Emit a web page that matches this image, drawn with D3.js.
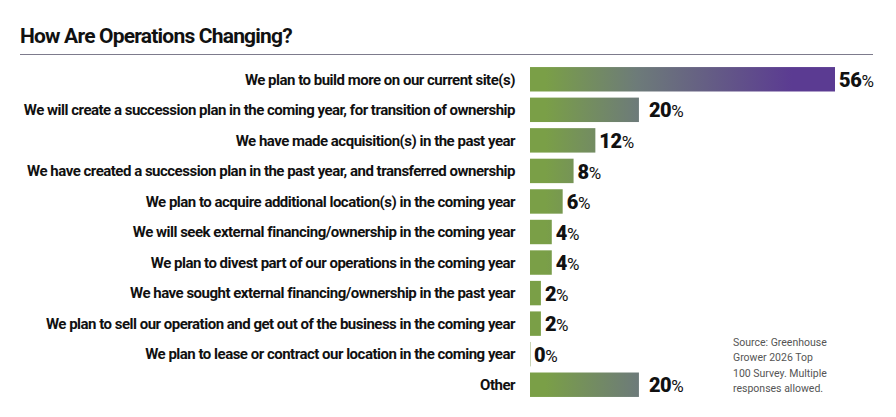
<!DOCTYPE html>
<html>
<head>
<meta charset="utf-8">
<script src="https://cdn.jsdelivr.net/npm/d3@7"></script>
<style>
  body { margin: 0; background: #fff; }
  svg { display: block; font-family: Roboto, "Noto Sans", sans-serif; }
</style>
</head>
<body>
<svg id="chart" width="896" height="417"></svg>
<script>
// chart data
const categories = [
  "We plan to build more on our current site(s)",
  "We will create a succession plan in the coming year, for transition of ownership",
  "We have made acquisition(s) in the past year",
  "We have created a succession plan in the past year, and transferred ownership",
  "We plan to acquire additional location(s) in the coming year",
  "We will seek external financing/ownership in the coming year",
  "We plan to divest part of our operations in the coming year",
  "We have sought external financing/ownership in the past year",
  "We plan to sell our operation and get out of the business in the coming year",
  "We plan to lease or contract our location in the coming year",
  "Other"
];
const values = [56, 20, 12, 8, 6, 4, 4, 2, 2, 0, 20];
const sourceLines = ["Source: Greenhouse", "Grower 2026 Top", "100 Survey. Multiple", "responses allowed."];

const svg = d3.select("#chart");

// title + rule
svg.append("text")
  .attr("x", 20).attr("y", 43)
  .attr("font-size", 21).attr("font-weight", 700)
  .attr("letter-spacing", -0.8)
  .attr("fill", "#111")
  .text("How Are Operations Changing?");

svg.append("line")
  .attr("x1", 20).attr("x2", 873)
  .attr("y1", 54.5).attr("y2", 54.5)
  .attr("stroke", "#7d7b8c").attr("stroke-width", 1);

// scales
const x = d3.scaleLinear().domain([0, 56]).range([530, 835]);
const y = d3.scaleBand().domain(categories).range([64, 400]).paddingInner(0.2).paddingOuter(0.1);

// gradient across the x range, shared by all bars
const defs = svg.append("defs");
const grad = defs.append("linearGradient")
  .attr("id", "barGrad")
  .attr("gradientUnits", "userSpaceOnUse")
  .attr("x1", x(0)).attr("x2", x(56)).attr("y1", 0).attr("y2", 0);
grad.append("stop").attr("offset", "0.05").attr("stop-color", "#7a9f47");
grad.append("stop").attr("offset", "0.35").attr("stop-color", "#6d7b79");
grad.append("stop").attr("offset", "0.86").attr("stop-color", "#5b3b92");

const rows = svg.append("g").selectAll("g")
  .data(categories)
  .join("g");

rows.append("text")
  .attr("x", 515)
  .attr("y", d => y(d) + y.bandwidth() / 2)
  .attr("dy", "0.35em")
  .attr("text-anchor", "end")
  .attr("font-size", 15).attr("font-weight", 700)
  .attr("letter-spacing", -0.5)
  .attr("fill", "#111")
  .text(d => d);

rows.append("rect")
  .attr("x", x(0))
  .attr("y", d => y(d))
  .attr("height", y.bandwidth())
  .attr("width", (d, i) => Math.max(1, x(values[i]) - x(0)))
  .attr("fill", (d, i) => values[i] === 0 ? "#c9d4b5" : "url(#barGrad)");

// value labels: the 20% ones sit a little further out in the original
const lbl = rows.append("text")
  .attr("x", (d, i) => x(values[i]) + (values[i] === 20 ? 10 : 4))
  .attr("y", d => y(d) + y.bandwidth() / 2 + 2)
  .attr("dy", "0.35em")
  .attr("fill", "#111");
lbl.append("tspan")
  .attr("font-size", 20).attr("font-weight", 900)
  .attr("letter-spacing", -0.4)
  .text((d, i) => values[i]);
lbl.append("tspan")
  .attr("font-size", 17).attr("font-weight", 400)
  .text("%");

// source note
svg.append("text")
  .attr("x", 733).attr("y", 346)
  .attr("font-size", 10.5).attr("fill", "#555")
  .selectAll("tspan")
  .data(sourceLines)
  .join("tspan")
  .attr("x", 733)
  .attr("dy", (d, i) => i === 0 ? 0 : 15.3)
  .text(d => d);
</script>
</body>
</html>
